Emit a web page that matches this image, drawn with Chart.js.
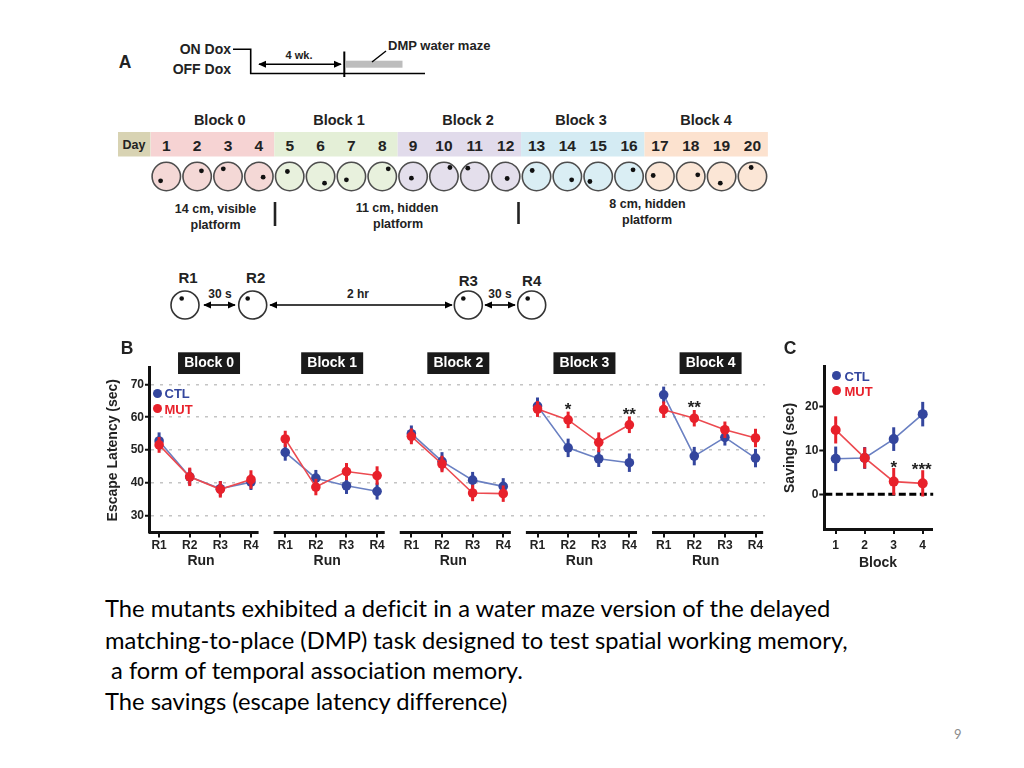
<!DOCTYPE html>
<html><head><meta charset="utf-8">
<script src="https://cdn.jsdelivr.net/npm/chart.js@4.4.1/dist/chart.umd.min.js"></script>
<style>
html,body{margin:0;padding:0;background:#fff;}
#page{position:relative;width:1024px;height:768px;overflow:hidden;background:#fff;font-family:"Liberation Sans",Arial,sans-serif;}
#cB{position:absolute;left:0;top:340px;}
#cC{position:absolute;left:780px;top:340px;}
.lbl{position:absolute;font-weight:bold;white-space:nowrap;line-height:1;}
.dot{position:absolute;border-radius:50%;}
.para{position:absolute;left:105px;font-family:Lato,"Open Sans",sans-serif;color:#000;white-space:pre;line-height:30px;font-variant-ligatures:none;font-feature-settings:"liga" 0,"clig" 0,"dlig" 0;}
</style>
</head><body>
<div id="page">
<svg id="schem" width="1024" height="340" style="position:absolute;left:0;top:0" font-family="Liberation Sans, Arial, sans-serif" font-weight="bold"></svg>
<canvas id="cB" width="780" height="240"></canvas>
<canvas id="cC" width="200" height="240"></canvas>
</div>
<script>
// ================= DATA =================
const runLabels = ['R1', 'R2', 'R3', 'R4'];
const blockTitles = ['Block 0', 'Block 1', 'Block 2', 'Block 3', 'Block 4'];
const latencyTicks = [30, 40, 50, 60, 70];

// Escape latency (sec), mean per run, panel B
const ctlBlock0 = [52.8, 41.9, 38.3, 40.3];
const mutBlock0 = [51.6, 41.9, 38.1, 41.1];
const ctlBlock1 = [49.3, 41.5, 39.2, 37.5];
const mutBlock1 = [53.4, 38.8, 43.5, 42.3];
const ctlBlock2 = [55.0, 46.6, 40.9, 39.0];
const mutBlock2 = [54.2, 45.8, 37.0, 36.8];
const ctlBlock3 = [63.4, 50.7, 47.4, 46.2];
const mutBlock3 = [62.5, 59.2, 52.4, 57.7];
const ctlBlock4 = [66.8, 48.2, 53.9, 47.6];
const mutBlock4 = [62.3, 59.7, 56.2, 53.7];
// error bars (SEM)
const ctlSemBlock0 = [2.6, 2.5, 2.3, 2.4];
const mutSemBlock0 = [2.4, 2.8, 2.5, 2.8];
const ctlSemBlock1 = [2.5, 2.5, 2.5, 2.5];
const mutSemBlock1 = [2.5, 2.5, 2.6, 2.8];
const ctlSemBlock2 = [2.5, 2.8, 2.5, 2.5];
const mutSemBlock2 = [2.4, 2.5, 2.5, 2.5];
const ctlSemBlock3 = [2.6, 2.8, 2.5, 2.8];
const mutSemBlock3 = [2.4, 2.5, 3.0, 2.5];
const ctlSemBlock4 = [2.5, 2.8, 2.5, 2.8];
const mutSemBlock4 = [2.5, 2.5, 2.5, 2.8];
// significance marks per block / run
const starsBlock3 = ['', '*', '', '**'];
const starsBlock4 = ['', '**', '', ''];

// Panel C: savings (sec)
const savingBlocks = ['1', '2', '3', '4'];
const savingTicks = [0, 10, 20];
const ctlSavings = [8.1, 8.3, 12.6, 18.3];
const mutSavings = [14.7, 8.3, 2.9, 2.5];
const ctlSavingsSem = [2.8, 2.5, 2.7, 2.8];
const mutSavingsSem = [3.1, 2.4, 3.1, 3.0];
const savingsStars = ['', '', '*', '***'];

// ================= STYLE =================
const CTL_PT = '#34469e', CTL_LN = '#6a80c2';
const MUT_PT = '#e8212b', MUT_LN = '#ec4a50';
const FONT = '"Liberation Sans", Arial, sans-serif';

// ================= PANEL A (schematic) =================
(function(){
  const NS = 'http://www.w3.org/2000/svg';
  const svg = document.getElementById('schem');
  function el(tag, attrs, text){
    const e = document.createElementNS(NS, tag);
    for (const k in attrs) e.setAttribute(k, attrs[k]);
    if (text !== undefined) e.textContent = text;
    svg.appendChild(e); return e;
  }
  const defs = el('defs', {});
  const mk = document.createElementNS(NS, 'marker');
  mk.setAttribute('id','ah'); mk.setAttribute('viewBox','0 0 10 10'); mk.setAttribute('refX','9'); mk.setAttribute('refY','5');
  mk.setAttribute('markerWidth','5'); mk.setAttribute('markerHeight','5'); mk.setAttribute('orient','auto-start-reverse');
  const mp = document.createElementNS(NS, 'path'); mp.setAttribute('d','M0,0.5 L10,5 L0,9.5 z'); mp.setAttribute('fill','#000');
  mk.appendChild(mp); defs.appendChild(mk);
  function txt(x, y, s, size, anchor, fill){
    return el('text', {x:x, y:y, 'font-size':size, 'text-anchor':anchor||'middle', 'dominant-baseline':'central', fill:fill||'#222'}, s);
  }
  function arrow(x1, x2, y){
    el('line', {x1:x1, y1:y, x2:x2, y2:y, stroke:'#000', 'stroke-width':1.6, 'marker-start':'url(#ah)', 'marker-end':'url(#ah)'});
  }
  txt(125, 62, 'A', 17.5);
  txt(231, 49, 'ON Dox', 14, 'end');
  txt(231, 69, 'OFF Dox', 14, 'end');
  el('polyline', {points:'233,49.3 250.7,49.3 250.7,73.5 425,73.5', fill:'none', stroke:'#000', 'stroke-width':1.6});
  el('line', {x1:344.3, y1:51.5, x2:344.3, y2:77, stroke:'#000', 'stroke-width':2});
  arrow(259, 341, 64.3);
  txt(299, 55, '4 wk.', 11);
  el('rect', {x:346, y:60.7, width:56.5, height:7, fill:'#bdbdbd'});
  el('line', {x1:372, y1:62, x2:386, y2:51, stroke:'#000', 'stroke-width':1.4});
  txt(388, 45.5, 'DMP water maze', 13, 'start');

  const blockCenters = [219.7, 339, 468, 581, 706];
  blockTitles.forEach((t,i) => txt(blockCenters[i], 120, t, 14.5));

  const blockFill = ['#f6d3d3', '#e4efd7', '#e1dbeb', '#d4ebf3', '#fce2cf'];
  const circFill  = ['#f4d8d6', '#e8f1dd', '#e4dfec', '#daeef4', '#fbe6d6'];
  const dayX = d => 166.3 + (d - 1) * 30.85;
  el('rect', {x:118, y:132, width:32.5, height:24.5, fill:'#d8d3b3'});
  txt(134, 144.5, 'Day', 12.5);
  for (let b = 0; b < 5; b++) {
    const x0 = dayX(b*4+1) - 15.42, x1 = dayX(b*4+4) + 15.42;
    el('rect', {x:x0, y:132, width:x1-x0, height:24.5, fill:blockFill[b]});
  }
  const dotOff = [[-5.7,4.3],[4.3,-5.7],[-4.7,-7.7],[4.3,0.7],[-2.3,-5],[4,6.7],[-5,3.3],[6,-7.7],[-1.7,1.7],[6,-9],
                  [-7,-8.3],[1.5,2],[-4.3,-6],[4.3,3.3],[-8.3,5],[4,-6.7],[-6.7,-1],[7,-1.7],[-1.3,6.7],[-1.3,-9]];
  for (let d = 1; d <= 20; d++) {
    const x = dayX(d), b = Math.floor((d-1)/4);
    txt(x, 145, String(d), 15.5);
    el('circle', {cx:x, cy:176.5, r:14.2, fill:circFill[b], stroke:'#4d4d4d', 'stroke-width':1.6});
    el('circle', {cx:x + dotOff[d-1][0], cy:176.5 + dotOff[d-1][1], r:2.4, fill:'#111'});
  }
  txt(215.5, 209, '14 cm, visible', 12.5); txt(215.5, 225, 'platform', 12.5);
  el('line', {x1:275, y1:202, x2:275, y2:226, stroke:'#222', 'stroke-width':2.6});
  txt(397, 208, '11 cm, hidden', 12.5); txt(398, 224, 'platform', 12.5);
  el('line', {x1:518.5, y1:202, x2:518.5, y2:224, stroke:'#222', 'stroke-width':2.6});
  txt(647.5, 204, '8 cm, hidden', 12.5); txt(647, 220, 'platform', 12.5);

  // R1..R4 schematic
  const rx = [185, 252.7, 468.3, 531.7];
  const ry = [277, 277, 280, 280];
  const rdx = [-3.3, -5, -5, -4];
  rx.forEach((x,i) => {
    txt(x + (i < 2 ? 3 : 0), ry[i], runLabels[i], 15);
    el('circle', {cx:x, cy:305, r:14, fill:'#fff', stroke:'#333', 'stroke-width':1.6});
    el('circle', {cx:x + rdx[i], cy:298.5, r:2.3, fill:'#111'});
  });
  arrow(204, 235, 305); txt(220, 293.5, '30 s', 12);
  arrow(270, 452, 305); txt(358, 293.5, '2 hr', 12);
  arrow(485, 515, 305); txt(500, 293.5, '30 s', 12);
})();

// ================= LABELS (HTML) =================
function addLabel(text, x, y, size, color, anchor){
  const d = document.createElement('div');
  d.className = 'lbl'; d.textContent = text;
  d.style.fontSize = size + 'px'; d.style.color = color || '#222';
  d.style.left = x + 'px'; d.style.top = (y - size*0.5) + 'px';
  if (anchor === 'middle') d.style.transform = 'translateX(-50%)';
  document.getElementById('page').appendChild(d);
}
function addDot(cx, cy, r, color){
  const d = document.createElement('div');
  d.className = 'dot'; d.style.background = color;
  d.style.left = (cx - r) + 'px'; d.style.top = (cy - r) + 'px';
  d.style.width = d.style.height = (2*r) + 'px';
  document.getElementById('page').appendChild(d);
}
addLabel('B', 127, 349, 17.5, '#222', 'middle');
addLabel('C', 790, 349, 17.5, '#222', 'middle');
addDot(157.3, 393.3, 4.6, CTL_PT); addLabel('CTL', 164.5, 393.5, 13, CTL_PT);
addDot(157.3, 408.8, 4.6, MUT_PT); addLabel('MUT', 164.5, 409, 13, MUT_PT);
addDot(836.7, 375.7, 4.6, CTL_PT); addLabel('CTL', 844.5, 376, 13, CTL_PT);
addDot(836.7, 390.5, 4.6, MUT_PT); addLabel('MUT', 844.5, 391, 13, MUT_PT);

// ================= PLUGINS =================
const errorBars = {
  id: 'errorBars',
  afterDatasetDraw(chart, args) {
    const ds = chart.data.datasets[args.index];
    if (!ds.errors) return;
    const ys = chart.scales.y, ctx = chart.ctx;
    ctx.save(); ctx.strokeStyle = ds.pointBackgroundColor; ctx.lineWidth = 3; ctx.lineCap = 'butt';
    args.meta.data.forEach((pt, i) => {
      const v = ds.data[i].y, e = ds.errors[i];
      ctx.beginPath();
      ctx.moveTo(pt.x, ys.getPixelForValue(v + e));
      ctx.lineTo(pt.x, ys.getPixelForValue(v - e));
      ctx.stroke();
    });
    ctx.restore();
  }
};
function drawStar(ctx, x, yPix, s){
  ctx.save(); ctx.fillStyle = '#222'; ctx.font = 'bold 17px ' + FONT;
  ctx.textAlign = 'center'; ctx.textBaseline = 'alphabetic';
  ctx.fillText(s, x, yPix + 17*0.6);
  ctx.restore();
}

// ================= PANEL B =================
const BLOCK_STEP = 4.12;
const ctlBlocks = [ctlBlock0, ctlBlock1, ctlBlock2, ctlBlock3, ctlBlock4];
const mutBlocks = [mutBlock0, mutBlock1, mutBlock2, mutBlock3, mutBlock4];
const ctlSems = [ctlSemBlock0, ctlSemBlock1, ctlSemBlock2, ctlSemBlock3, ctlSemBlock4];
const mutSems = [mutSemBlock0, mutSemBlock1, mutSemBlock2, mutSemBlock3, mutSemBlock4];
const starsB = [null, null, null, starsBlock3, starsBlock4];
function mkDs(label, vals, sems, b, pt, ln, order){
  return {
    label, order, errors: sems,
    data: vals.map((v, r) => ({x: b*BLOCK_STEP + r, y: v})),
    borderColor: ln, borderWidth: 1.6, backgroundColor: pt,
    pointBackgroundColor: pt, pointBorderColor: pt, pointRadius: 4.8, pointBorderWidth: 0,
    tension: 0, fill: false
  };
}
const dsB = [];
for (let b = 0; b < 5; b++) {
  dsB.push(mkDs('MUT', mutBlocks[b], mutSems[b], b, MUT_PT, MUT_LN, 0));
  dsB.push(mkDs('CTL', ctlBlocks[b], ctlSems[b], b, CTL_PT, CTL_LN, 1));
}
const tickPosB = [];
for (let b = 0; b < 5; b++) for (let r = 0; r < 4; r++) tickPosB.push(b*BLOCK_STEP + r);

const blockDecor = {
  id: 'blockDecor',
  afterDraw(chart) {
    const ctx = chart.ctx, xs = chart.scales.x, ys = chart.scales.y, ca = chart.chartArea;
    ctx.save();
    for (let b = 0; b < 5; b++) {
      const x0 = b === 0 ? ca.left : xs.getPixelForValue(b*BLOCK_STEP - 0.38);
      const x1 = xs.getPixelForValue(b*BLOCK_STEP + 3.25);
      ctx.strokeStyle = '#111'; ctx.lineWidth = 3;
      ctx.beginPath(); ctx.moveTo(x0, ca.bottom); ctx.lineTo(x1, ca.bottom); ctx.stroke();
      const cx = xs.getPixelForValue(b*BLOCK_STEP + 1.5);
      ctx.fillStyle = '#222'; ctx.font = 'bold 14px ' + FONT; ctx.textAlign = 'center'; ctx.textBaseline = 'middle';
      ctx.fillText('Run', cx - 4, 221.5);
      // title box
      const bx = cx + (b === 0 ? 4 : 1);
      ctx.fillStyle = '#1a1a1a'; ctx.fillRect(bx - 31, 12.3, 62, 21.7);
      ctx.fillStyle = '#fff'; ctx.font = 'bold 14px ' + FONT;
      ctx.fillText(blockTitles[b], bx, 23.5);
      if (starsB[b]) starsB[b].forEach((s, r) => {
        if (!s) return;
        const top = Math.max(mutBlocks[b][r] + mutSems[b][r], ctlBlocks[b][r] + ctlSems[b][r]);
        drawStar(ctx, xs.getPixelForValue(b*BLOCK_STEP + r), ys.getPixelForValue(top + 2.1), s);
      });
    }
    ctx.restore();
  }
};

new Chart(document.getElementById('cB'), {
  type: 'line',
  data: { datasets: dsB },
  options: {
    responsive: false, animation: false, events: [],
    layout: { padding: { left: 103, top: 27.85, right: 15, bottom: 17.5 } },
    plugins: { legend: { display: false }, tooltip: { enabled: false } },
    scales: {
      x: {
        type: 'linear', min: -0.33, max: 19.79,
        afterBuildTicks: s => { s.ticks = tickPosB.map(v => ({ value: v })); },
        afterFit: s => { s.height = 30; s.paddingLeft = 0; s.paddingRight = 0; },
        ticks: { autoSkip: false, maxRotation: 0, padding: 1, color: '#222',
                 font: { family: FONT, size: 12, weight: 'bold' },
                 callback: (v, i) => runLabels[i % 4] },
        grid: { drawOnChartArea: false, drawTicks: true, tickLength: 5, color: '#111', lineWidth: 2 },
        border: { display: false }
      },
      y: {
        min: 25, max: 75,
        afterBuildTicks: s => { s.ticks = latencyTicks.map(v => ({ value: v })); },
        afterFit: s => { s.width = 46; s.paddingTop = 0; s.paddingBottom = 0; },
        ticks: { padding: 1, color: '#222', font: { family: FONT, size: 12, weight: 'bold' } },
        grid: { color: '#c4c4c4', lineWidth: 1.5, tickColor: '#111', tickWidth: 2, tickLength: 4, tickBorderDash: [] },
        border: { display: true, width: 3, color: '#111', dash: [3, 6] },
        title: { display: true, text: 'Escape Latency (sec)', color: '#222',
                 font: { family: FONT, size: 14, weight: 'bold' }, padding: { top: 2, bottom: 0 } }
      }
    }
  },
  plugins: [errorBars, blockDecor]
});

// ================= PANEL C =================
const savingsDecor = {
  id: 'savingsDecor',
  beforeDatasetsDraw(chart) {
    const ctx = chart.ctx, ys = chart.scales.y, ca = chart.chartArea;
    const y0 = ys.getPixelForValue(0);
    ctx.save(); ctx.strokeStyle = '#000'; ctx.lineWidth = 3; ctx.setLineDash([7, 3.5]);
    ctx.beginPath(); ctx.moveTo(ca.left + 1, y0); ctx.lineTo(ca.right + 1.5, y0); ctx.stroke();
    ctx.restore();
  },
  afterDraw(chart) {
    const ctx = chart.ctx, xs = chart.scales.x, ys = chart.scales.y;
    savingsStars.forEach((s, i) => {
      if (!s) return;
      drawStar(ctx, xs.getPixelForValue(i + 1) - (s.length > 1 ? 1 : 0), ys.getPixelForValue(mutSavings[i] + mutSavingsSem[i] + 1.3), s);
    });
  }
};
function mkDsC(label, vals, sems, pt, ln, order){
  return {
    label, order, errors: sems,
    data: vals.map((v, i) => ({ x: i + 1, y: v })),
    borderColor: ln, borderWidth: 1.6, backgroundColor: pt,
    pointBackgroundColor: pt, pointBorderColor: pt, pointRadius: 5, pointBorderWidth: 0, tension: 0
  };
}
new Chart(document.getElementById('cC'), {
  type: 'line',
  data: { datasets: [
    mkDsC('MUT', mutSavings, mutSavingsSem, MUT_PT, MUT_LN, 0),
    mkDsC('CTL', ctlSavings, ctlSavingsSem, CTL_PT, CTL_LN, 1)
  ] },
  options: {
    responsive: false, animation: false, events: [],
    layout: { padding: { left: 0, top: 26.7, right: 48.3, bottom: 0 } },
    plugins: { legend: { display: false }, tooltip: { enabled: false } },
    scales: {
      x: {
        type: 'linear', min: 0.607, max: 4.31,
        afterBuildTicks: s => { s.ticks = savingBlocks.map((b, i) => ({ value: i + 1 })); },
        afterFit: s => { s.height = 51; s.paddingLeft = 0; s.paddingRight = 0; },
        ticks: { autoSkip: false, maxRotation: 0, padding: 4, color: '#222',
                 font: { family: FONT, size: 12, weight: 'bold' },
                 callback: (v, i) => savingBlocks[i] },
        grid: { drawOnChartArea: false, drawTicks: true, tickLength: 5, color: '#111', lineWidth: 2 },
        border: { display: true, width: 3, color: '#111' },
        title: { display: true, text: 'Block', color: '#222',
                 font: { family: FONT, size: 14, weight: 'bold' }, padding: { top: 0, bottom: 8.3 } }
      },
      y: {
        min: -7.92, max: 29.13,
        afterBuildTicks: s => { s.ticks = savingTicks.map(v => ({ value: v })); },
        afterFit: s => { s.width = 44.3; s.paddingTop = 0; s.paddingBottom = 0; },
        ticks: { padding: 1, color: '#222', font: { family: FONT, size: 12, weight: 'bold' } },
        grid: { drawOnChartArea: false, drawTicks: true, tickLength: 5, tickColor: '#111', tickWidth: 2, color: '#111' },
        border: { display: true, width: 3, color: '#111' },
        title: { display: true, text: 'Savings (sec)', color: '#222',
                 font: { family: FONT, size: 14, weight: 'bold' }, padding: { top: 1.6, bottom: 0 } }
      }
    }
  },
  plugins: [errorBars, savingsDecor]
});

// ================= PARAGRAPH =================
const paraLines = [
  'The mutants exhibited a deficit in a water maze version of the delayed',
  'matching-to-place (DMP) task designed to test spatial working memory,',
  ' a form of temporal association memory.',
  'The savings (escape latency difference)'
];
(function(){
  const m = document.createElement('canvas').getContext('2d');
  m.font = '20px Lato';
  const w = m.measureText(paraLines[0]).width;
  const size = Math.min(24, Math.max(16, 20 * 727 / w));
  const centers = [608, 639.5, 670, 700.5];
  paraLines.forEach((t, i) => {
    const d = document.createElement('div');
    d.className = 'para'; d.textContent = t;
    d.style.fontSize = size.toFixed(2) + 'px';
    d.style.top = (centers[i] - 15) + 'px';
    document.getElementById('page').appendChild(d);
  });
  const n = document.createElement('div');
  n.textContent = '9';
  n.style.cssText = 'position:absolute;left:954px;top:726px;font-family:Lato,sans-serif;font-size:13px;color:#8c8c8c;';
  document.getElementById('page').appendChild(n);
})();
</script>
</body></html>
